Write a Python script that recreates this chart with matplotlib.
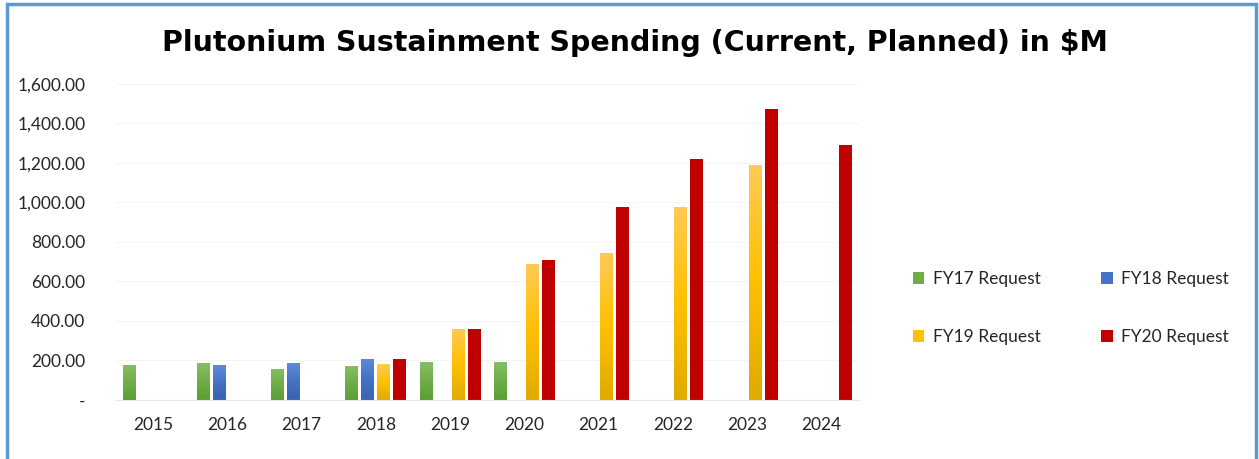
import numpy as np
import matplotlib
matplotlib.use('Agg')
import matplotlib.pyplot as plt
from matplotlib.colors import LinearSegmentedColormap
from matplotlib.patches import Rectangle

plt.rcParams['font.family'] = ['Lato', 'DejaVu Sans']

# data
years = ['2015', '2016', '2017', '2018', '2019', '2020', '2021', '2022', '2023', '2024']
fy17 = [177, 187, 157, 172, 192, 192, np.nan, np.nan, np.nan, np.nan]
fy18 = [np.nan, 177, 187, 208, np.nan, np.nan, np.nan, np.nan, np.nan, np.nan]
fy19 = [np.nan, np.nan, np.nan, 182, 361, 689, 746, 977, 1190, np.nan]
fy20 = [np.nan, np.nan, np.nan, 208, 361, 709, 977, 1220, 1472, 1290]
labels = ['FY17 Request', 'FY18 Request', 'FY19 Request', 'FY20 Request']
yticks = [0, 200, 400, 600, 800, 1000, 1200, 1400, 1600]

# gradient (bottom, middle, top) per series
shades = [('#5a9e36', '#70ad47', '#85be66'),
          ('#3a63b0', '#4472c4', '#5f89d6'),
          ('#e0ab00', '#ffc000', '#ffca55'),
          ('#c00000', '#c00000', '#c00000')]

fig = plt.figure(figsize=(12.59, 4.59), dpi=100)
ax = fig.add_axes([0.092, 0.1285, 0.59, 0.689])

x = np.arange(len(years))
slot = 0.215
width = 0.175
series = [fy17, fy18, fy19, fy20]
handles = []
for i, vals in enumerate(series):
    bars = ax.bar(x + (i - 1.5) * slot, vals, width, color=shades[i][1],
                  label=labels[i], zorder=2)
    handles.append(bars)
    cmap = LinearSegmentedColormap.from_list('g%d' % i, list(shades[i]))
    grad = np.linspace(0, 1, 64).reshape(-1, 1)
    for p in bars.patches:
        h = p.get_height()
        if not np.isfinite(h) or h <= 0:
            continue
        im = ax.imshow(grad, extent=[p.get_x(), p.get_x() + p.get_width(), 0, h],
                       origin='lower', aspect='auto', cmap=cmap, zorder=2.5)
        im.set_clip_path(p)

ax.set_xlim(-0.5, 9.5)
ax.set_ylim(0, 1600)
ax.set_xticks(x)
ax.set_xticklabels(years, fontsize=12.5, color='#262626')
ax.set_yticks(yticks)
ax.set_yticklabels(['-' if v == 0 else '{:,.2f}'.format(v) for v in yticks],
                   fontsize=12.5, color='#262626')
ax.tick_params(axis='both', length=0)
ax.tick_params(axis='y', pad=22)
ax.tick_params(axis='x', pad=12)
ax.grid(axis='y', color='#f5f5f5', linewidth=0.8, zorder=0)
for s in ['top', 'right', 'left']:
    ax.spines[s].set_visible(False)
ax.spines['bottom'].set_color('#e6e6e6')

fig.text(0.504, 0.906, 'Plutonium Sustainment Spending (Current, Planned) in $M',
         ha='center', va='center', fontsize=20.5, fontweight='bold', color='black',
         family=['DejaVu Sans'])

# row-wise order: FY17, FY18 / FY19, FY20
order = [0, 2, 1, 3]
leg = fig.legend([handles[k] for k in order], [labels[k] for k in order],
                 loc='center left', bbox_to_anchor=(0.725, 0.329), ncol=2,
                 frameon=False, fontsize=12.5, handlelength=0.65, handleheight=0.65,
                 handletextpad=0.5, columnspacing=3.5, labelspacing=2.4,
                 borderpad=0, borderaxespad=0)
for t in leg.get_texts():
    t.set_color('#262626')

# chart border
fig.patches.append(Rectangle((7 / 1259, -0.05), 1249 / 1259, 1 - 4 / 459 + 0.05,
                             transform=fig.transFigure, fill=False,
                             edgecolor='#5b9bd5', linewidth=2.5))

fig.savefig('out.png', dpi=100)
